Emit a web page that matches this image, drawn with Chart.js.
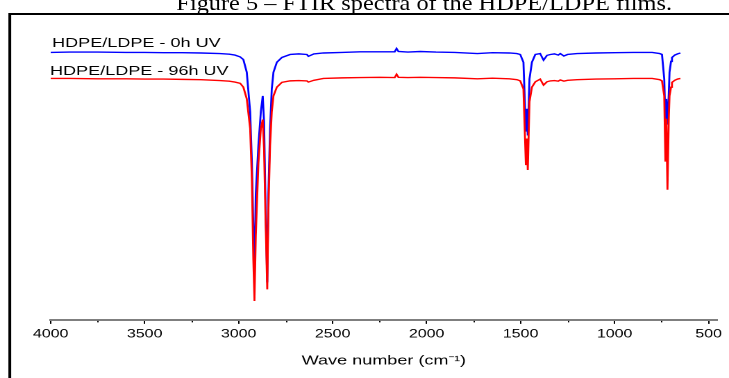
<!DOCTYPE html>
<html>
<head>
<meta charset="utf-8">
<script src="https://cdn.jsdelivr.net/npm/chart.js@4.4.1/dist/chart.umd.min.js"></script>
<style>
  html, body { margin: 0; padding: 0; background: #fff; overflow: hidden; width: 729px; height: 378px; }
  #wrap { position: absolute; left: 0; top: 0; width: 525px; height: 378px; transform: scaleX(1.388571); transform-origin: 0 0; overflow: hidden; }
  #frame { position: absolute; left: 6px; top: 13px; width: 600px; height: 500px; border: 2px solid #000; }
  #title { position: absolute; left: 127px; top: -8.4px; font-family: "Liberation Serif", "Times New Roman", serif; font-size: 22px; line-height: 1; white-space: nowrap; color: #000; transform: scaleX(0.797); transform-origin: 0 0; }
  canvas { position: absolute; left: 0; top: 0; }
</style>
</head>
<body>
<div id="wrap">
  <div id="title">Figure 5 – FTIR spectra of the HDPE/LDPE films.</div>
  <div id="frame"></div>
  <canvas id="c" width="525" height="378" style="width:525px;height:378px"></canvas>
</div>
<script>
const wavenumbers = [4000,3900,3750,3600,3500,3400,3300,3200,3100,3050,3020,2992,2975,2957,2939,2930,2922,2916,2909,2895,2882,2872,2865,2858,2848,2842,2833,2824,2815,2797,2770,2726,2680,2637,2629,2600,2549,2450,2354,2250,2170,2160,2150,2100,2034,1950,1850,1730,1650,1560,1520,1502,1485,1472,1467,1462,1453,1440,1422,1396,1378,1360,1342,1320,1300,1289,1270,1250,1200,1100,1000,900,800,760,748,736,730,725,719,712,708,700,695,680,665,650];
const uv0h = [89.2,89.3,89.3,89.2,89.2,89.1,89.1,89.0,88.8,88.6,88.3,87.7,86.8,82.6,69.4,52.9,30.9,14.5,41.8,58.2,69.4,74.7,66.1,41.8,12.5,41.8,63.8,77.0,82.6,85.9,87.5,88.5,88.7,88.5,87.9,88.7,89.0,89.2,89.4,89.4,89.4,90.5,89.5,89.3,89.5,89.3,89.2,88.8,89.1,89.0,88.8,88.5,85.9,62.8,70.4,61.5,80.3,85.9,88.5,88.8,86.6,88.2,88.5,88.7,88.3,88.8,88.0,88.5,88.8,89.0,89.1,89.2,89.2,88.8,88.5,80.3,66.4,73.7,65.1,75.3,82.6,86.2,87.5,88.3,88.7,89.0];
const uv96h = [80.5,80.5,80.4,80.4,80.3,80.3,80.2,80.1,79.8,79.6,79.3,78.9,77.6,73.7,63.8,47.4,20.1,6.3,28.0,52.3,63.8,66.8,57.2,36.5,10.2,36.5,58.2,69.4,74.7,77.6,79.2,79.7,79.8,79.7,79.3,79.9,80.5,80.7,80.8,80.9,80.8,81.9,80.9,80.8,80.9,80.8,80.7,80.4,80.6,80.4,80.1,79.7,77.0,51.6,60.5,50.0,72.7,77.6,79.4,80.3,78.3,79.4,79.7,79.8,79.6,80.0,79.6,79.9,80.1,80.3,80.4,80.5,80.5,80.1,79.7,74.7,53.0,67.1,43.4,67.1,74.7,77.6,79.2,79.9,80.3,80.5];
const seriesLabels = ['HDPE/LDPE - 0h UV', 'HDPE/LDPE - 96h UV'];
const seriesColors = ['#0000ff', '#ff0000'];
const xTicks = [4000,3500,3000,2500,2000,1500,1000,500];
const minorTicks = [3750,3250,2750,2250,1750,1250,750];
const xTitle = 'Wave number (cm\u207B\u00B9)';

const FONT = '"Liberation Sans", Arial, sans-serif';

const toPts = (vals) => wavenumbers.map((w, i) => ({x: w, y: vals[i]}));

const labelPlugin = {
  id: 'labelPlugin',
  afterDraw(chart) {
    const {ctx, chartArea} = chart;
    const xs = chart.scales.x, ys = chart.scales.y;
    ctx.save();
    ctx.strokeStyle = '#000';
    ctx.lineWidth = 1;
    minorTicks.forEach(v => {
      const px = Math.round(xs.getPixelForValue(v)) + 0.5;
      ctx.beginPath();
      ctx.moveTo(px, chartArea.bottom + 1);
      ctx.lineTo(px, chartArea.bottom + 2.5);
      ctx.stroke();
    });
    ctx.font = '13px ' + FONT;
    ctx.fillStyle = '#000';
    ctx.textBaseline = 'alphabetic';
    ctx.textAlign = 'left';
    const series = [uv0h, uv96h];
    const dy = [5.4, 3.4];
    const dx = [1, -0.5];
    series.forEach((vals, i) => {
      const px = xs.getPixelForValue(wavenumbers[0]) + dx[i];
      const py = ys.getPixelForValue(vals[0]) - dy[i];
      ctx.fillText(seriesLabels[i], px, py);
    });
    ctx.restore();
  }
};

new Chart(document.getElementById('c'), {
  type: 'line',
  data: {
    datasets: [
      { label: seriesLabels[1], data: toPts(uv96h), borderColor: seriesColors[1], borderWidth: 1.4, pointRadius: 0, tension: 0, fill: false },
      { label: seriesLabels[0], data: toPts(uv0h), borderColor: seriesColors[0], borderWidth: 1.4, pointRadius: 0, tension: 0, fill: false }
    ]
  },
  options: {
    responsive: false,
    devicePixelRatio: 2,
    animation: false,
    layout: { padding: { left: 36.5, right: 8.6, top: 20, bottom: 5.2 } },
    plugins: { legend: { display: false }, tooltip: { enabled: false }, title: { display: false } },
    scales: {
      x: {
        type: 'linear',
        reverse: true,
        min: 455,
        max: 4000,
        afterBuildTicks: (scale) => { scale.ticks = xTicks.map(v => ({ value: v })); },
        ticks: { font: { family: FONT, size: 11.5 }, color: '#000', padding: 3.6, maxRotation: 0, autoSkip: false, callback: (v) => String(v) },
        grid: { display: true, drawOnChartArea: false, drawTicks: true, tickLength: 4, color: '#000', lineWidth: 1 },
        border: { display: true, color: '#7f7f7f', width: 2 },
        title: { display: true, text: xTitle, font: { family: FONT, size: 13 }, color: '#000', padding: { top: 8.3, bottom: 4 } }
      },
      y: {
        display: false,
        min: 0,
        max: 100
      }
    }
  },
  plugins: [labelPlugin]
});
</script>
</body>
</html>
